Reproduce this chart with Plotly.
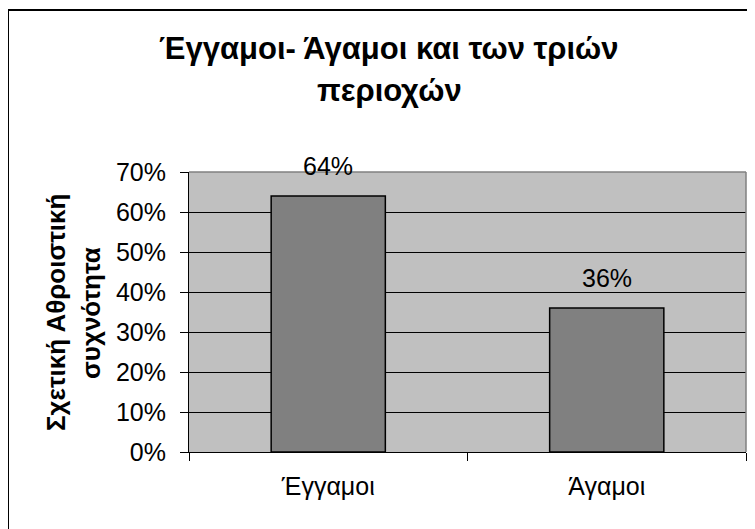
import plotly.graph_objects as go

categories = ["Έγγαμοι", "Άγαμοι"]
values = [0.64, 0.36]
value_labels = ["64%", "36%"]
title_lines = ["Έγγαμοι- Άγαμοι και των τριών", "περιοχών"]
ytitle_lines = ["Σχετική Αθροιστική", "συχνότητα"]
ytick_vals = [0, 0.1, 0.2, 0.3, 0.4, 0.5, 0.6, 0.7]

# the page body adds an 8px offset; work in screen pixels and convert
OX, OY = 8, 8
W, H = 755 - OX, 529 - OY
PX0, PX1, PY0, PY1 = 189, 746, 172, 452   # plot area in screen px
L, R = PX0 - OX, W - (PX1 - OX)
T, B = PY0 - OY, H - (PY1 - OY)
pw, ph = PX1 - PX0, PY1 - PY0

def px_x(p):
    return (p - PX0) / pw

def px_y(p):
    return (PY1 - p) / ph

FONT = "Liberation Sans, Arial, sans-serif"
FS = 25

fig = go.Figure()
fig.add_trace(go.Bar(
    x=categories, y=values, width=0.41,
    marker=dict(color="#808080", line=dict(color="black", width=1.5)),
    hoverinfo="skip",
))

annotations = []
for c, v, t in zip(categories, values, value_labels):
    annotations.append(dict(x=c, y=v, xref="x", yref="y", text=t, showarrow=False,
                            yanchor="bottom", yshift=14,
                            font=dict(family=FONT, size=FS, color="black")))
# title
annotations.append(dict(x=px_x(389), y=px_y(48), xref="paper", yref="paper", text="<b>%s</b>" % title_lines[0],
                        showarrow=False, xanchor="center", yanchor="middle",
                        font=dict(family=FONT, size=31, color="black")))
annotations.append(dict(x=px_x(389), y=px_y(91), xref="paper", yref="paper", text="<b>%s</b>" % title_lines[1],
                        showarrow=False, xanchor="center", yanchor="middle",
                        font=dict(family=FONT, size=31, color="black")))
# y axis title
annotations.append(dict(x=px_x(56), y=px_y(313), xref="paper", yref="paper", text="<b>%s</b>" % ytitle_lines[0],
                        showarrow=False, xanchor="center", yanchor="middle", textangle=-90,
                        font=dict(family=FONT, size=26, color="black")))
annotations.append(dict(x=px_x(91), y=px_y(313), xref="paper", yref="paper", text="<b>%s</b>" % ytitle_lines[1],
                        showarrow=False, xanchor="center", yanchor="middle", textangle=-90,
                        font=dict(family=FONT, size=26, color="black")))

shapes = [
    # outer chart frame
    dict(type="rect", xref="paper", yref="paper", x0=px_x(8), x1=px_x(775), y0=px_y(545), y1=px_y(10),
         line=dict(color="black", width=2), fillcolor="rgba(0,0,0,0)", layer="below"),
    # plot area top and right border (gray)
    dict(type="line", xref="paper", yref="paper", x0=0, x1=1, y0=1, y1=1,
         line=dict(color="#808080", width=1.5), layer="above"),
    dict(type="line", xref="paper", yref="paper", x0=1, x1=1, y0=0, y1=1,
         line=dict(color="#808080", width=1.5), layer="above"),
]

fig.update_layout(
    width=W, height=H,
    margin=dict(l=L, r=R, t=T, b=B, pad=0),
    paper_bgcolor="white", plot_bgcolor="#C0C0C0",
    showlegend=False,
    annotations=annotations,
    shapes=shapes,
    font=dict(family=FONT, size=FS, color="black"),
)
fig.update_xaxes(
    showline=True, linecolor="black", linewidth=1,
    ticks="outside", tickson="boundaries", ticklen=8, tickcolor="black", tickwidth=1,
    showgrid=False, tickfont=dict(family=FONT, size=FS, color="black"),
    ticklabelstandoff=12,
    fixedrange=True,
)
fig.update_yaxes(
    range=[0, 0.7], tickvals=ytick_vals, tickformat=".0%",
    showline=True, linecolor="black", linewidth=1,
    ticks="outside", ticklen=8, tickcolor="black", tickwidth=1,
    showgrid=True, gridcolor="black", gridwidth=1, zeroline=False,
    tickfont=dict(family=FONT, size=FS, color="black"),
    ticklabelstandoff=9,
    fixedrange=True,
)

fig.write_html("out.html")
